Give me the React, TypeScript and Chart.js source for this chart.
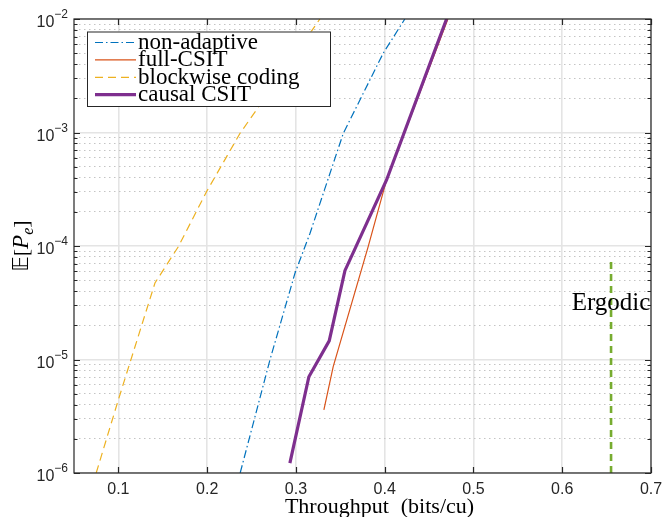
import React, { useEffect, useRef } from 'react';
import { Chart, registerables } from 'chart.js';

Chart.register(...registerables);

const SERIF = '"Liberation Serif", "Times New Roman", serif';
const SANS = '"Liberation Sans", Arial, sans-serif';

// ---- axes / ticks ----
const xMin = 0.05;
const xMax = 0.7;
const xTicks = [0.1, 0.2, 0.3, 0.4, 0.5, 0.6, 0.7];
const decadeExps = [-6, -5, -4, -3, -2];
const minorMultipliers = [2, 3, 4, 5, 6, 7, 8, 9];

// ---- series ----
const nonAdaptiveX = [0.2372, 0.2707, 0.2989, 0.3158, 0.3533, 0.3983, 0.4227];
const nonAdaptiveY = [1e-6, 9.9e-6, 5.75e-5, 1.29e-4, 9.8e-4, 4.99e-3, 1e-2];

const fullCsitX = [0.3315, 0.342, 0.3814, 0.4021, 0.4712];
const fullCsitY = [3.59e-6, 8.64e-6, 9.86e-5, 3.82e-4, 1e-2];

const blockwiseX = [0.075, 0.0999, 0.1412, 0.1675, 0.1994, 0.2369, 0.2595, 0.327];
const blockwiseY = [1e-6, 4.4e-6, 4.72e-5, 9.86e-5, 3.02e-4, 9.8e-4, 1.75e-3, 1e-2];

const causalX = [0.2932, 0.3146, 0.3375, 0.3552, 0.4021, 0.4697];
const causalY = [1.22e-6, 7.05e-6, 1.46e-5, 6.06e-5, 3.82e-4, 1e-2];

const ergodicX = [0.655, 0.655];
const ergodicY = [1e-6, 8e-5];

const seriesLabels = ['non-adaptive', 'full-CSIT', 'blockwise coding', 'causal CSIT'];
const ergodicLabel = 'Ergodic';
const xTitleParts = ['Throughput', '(bits/cu)'];

const pts = (xs: number[], ys: number[]) => xs.map((x, i) => ({ x, y: ys[i] }));

const styles = {
  nonAdaptive: { borderColor: '#0072BD', borderWidth: 1.2, borderDash: [8, 3, 1.5, 3] },
  fullCsit: { borderColor: '#D95319', borderWidth: 1.2, borderDash: [] as number[] },
  blockwise: { borderColor: '#EDB120', borderWidth: 1.2, borderDash: [8, 5] },
  causal: { borderColor: '#7E2F8E', borderWidth: 3.2, borderDash: [] as number[] },
  ergodic: { borderColor: '#77AC30', borderWidth: 2.6, borderDash: [7, 5] },
};
const legendStyles = [styles.nonAdaptive, styles.fullCsit, styles.blockwise, styles.causal];

const decorPlugin = {
  id: 'decor',
  afterDraw(chart: any) {
    const { ctx, chartArea: a, scales } = chart;
    const xs = scales.x;
    const ys = scales.y;
    const axisColor = '#262626';
    ctx.save();

    // box
    ctx.setLineDash([]);
    ctx.strokeStyle = axisColor;
    ctx.lineWidth = 1.2;
    ctx.strokeRect(a.left, a.top, a.right - a.left, a.bottom - a.top);

    // inward tick marks
    ctx.beginPath();
    xTicks.forEach((v) => {
      const px = Math.round(xs.getPixelForValue(v)) + 0.5;
      ctx.moveTo(px, a.bottom);
      ctx.lineTo(px, a.bottom - 6);
      ctx.moveTo(px, a.top);
      ctx.lineTo(px, a.top + 6);
    });
    ys.ticks.forEach((t: any) => {
      const py = Math.round(ys.getPixelForValue(t.value)) + 0.5;
      const len = t.major ? 6 : 3.5;
      ctx.moveTo(a.left, py);
      ctx.lineTo(a.left + len, py);
      ctx.moveTo(a.right, py);
      ctx.lineTo(a.right - len, py);
    });
    ctx.stroke();

    // x tick labels
    ctx.fillStyle = axisColor;
    ctx.font = `16px ${SANS}`;
    ctx.textAlign = 'center';
    ctx.textBaseline = 'alphabetic';
    xTicks.forEach((v) => {
      ctx.fillText(v.toFixed(1), xs.getPixelForValue(v), a.bottom + 21);
    });

    // y tick labels 10^n
    ctx.textAlign = 'left';
    decadeExps.forEach((e) => {
      const py = ys.getPixelForValue(Math.pow(10, e));
      const sup = '\u2212' + String(Math.abs(e));
      ctx.font = `12px ${SANS}`;
      const w2 = ctx.measureText(sup).width;
      ctx.font = `16px ${SANS}`;
      const w1 = ctx.measureText('10').width;
      const right = a.left - 6;
      ctx.fillText('10', right - w2 - w1, py + 8);
      ctx.font = `12px ${SANS}`;
      ctx.fillText(sup, right - w2, py - 1);
    });

    // x title
    ctx.fillStyle = '#000';
    ctx.font = `22px ${SERIF}`;
    const w1 = ctx.measureText(xTitleParts[0]).width;
    const w2 = ctx.measureText(xTitleParts[1]).width;
    const gap = 12;
    const cx = (a.left + a.right) / 2 + 17;
    const sx = cx - (w1 + gap + w2) / 2;
    ctx.fillText(xTitleParts[0], sx, a.bottom + 40);
    ctx.fillText(xTitleParts[1], sx + w1 + gap, a.bottom + 40);

    // y title  E[P_e]
    ctx.save();
    ctx.translate(28, (a.top + a.bottom) / 2);
    ctx.rotate(-Math.PI / 2);
    const parts = [
      { t: '\u{1D53C}', f: `21px "DejaVu Sans", ${SERIF}`, dy: 0 },
      { t: '[', f: `22px ${SERIF}`, dy: 0 },
      { t: 'P', f: `italic 23px ${SERIF}`, dy: 0 },
      { t: 'e', f: `italic 16px ${SERIF}`, dy: 5 },
      { t: ']', f: `22px ${SERIF}`, dy: 0 },
    ];
    let total = 0;
    const widths = parts.map((p) => {
      ctx.font = p.f;
      const w = ctx.measureText(p.t).width;
      total += w;
      return w;
    });
    let px = -total / 2;
    parts.forEach((p, i) => {
      ctx.font = p.f;
      ctx.fillText(p.t, px, p.dy);
      px += widths[i];
    });
    ctx.restore();

    // Ergodic label
    ctx.font = `25px ${SERIF}`;
    ctx.textAlign = 'center';
    ctx.fillText(ergodicLabel, xs.getPixelForValue(ergodicX[0]), 310);

    // legend
    const lx0 = a.left + 13;
    const ly0 = a.top + 12.5;
    const lx1 = 330;
    const ly1 = 106;
    ctx.fillStyle = '#fff';
    ctx.fillRect(lx0, ly0, lx1 - lx0, ly1 - ly0);
    ctx.strokeStyle = axisColor;
    ctx.lineWidth = 1;
    ctx.setLineDash([]);
    ctx.strokeRect(lx0 + 0.5, ly0 + 0.5, lx1 - lx0, ly1 - ly0);
    ctx.textAlign = 'left';
    ctx.font = `23px ${SERIF}`;
    seriesLabels.forEach((lab, i) => {
      const ry = ly0 + 11 + i * 17.4;
      const st = legendStyles[i];
      ctx.strokeStyle = st.borderColor;
      ctx.lineWidth = st.borderWidth;
      ctx.setLineDash(st.borderDash);
      ctx.beginPath();
      ctx.moveTo(lx0 + 8, ry);
      ctx.lineTo(lx0 + 49, ry);
      ctx.stroke();
      ctx.setLineDash([]);
      ctx.fillStyle = '#000';
      ctx.fillText(lab, lx0 + 51, ry + 6.5);
    });

    ctx.restore();
  },
};

export default function App() {
  const ref = useRef<HTMLCanvasElement>(null);

  useEffect(() => {
    if (!ref.current) return;
    const mk = (label: string, xs: number[], ys: number[], st: any) => ({
      label,
      data: pts(xs, ys),
      borderColor: st.borderColor,
      borderWidth: st.borderWidth,
      borderDash: st.borderDash,
      pointRadius: 0,
      pointHoverRadius: 0,
      fill: false,
      tension: 0,
    });
    const isMajor = (c: any) => !!(c.tick && c.tick.major);
    const chart = new Chart(ref.current, {
      type: 'line',
      data: {
        datasets: [
          mk(seriesLabels[3], causalX, causalY, styles.causal),
          mk(seriesLabels[2], blockwiseX, blockwiseY, styles.blockwise),
          mk(seriesLabels[1], fullCsitX, fullCsitY, styles.fullCsit),
          mk(seriesLabels[0], nonAdaptiveX, nonAdaptiveY, styles.nonAdaptive),
          mk(ergodicLabel, ergodicX, ergodicY, styles.ergodic),
        ],
      },
      options: {
        animation: false,
        responsive: false,
        devicePixelRatio: 1,
        layout: { padding: { left: 74, right: 12, top: 19, bottom: 44 } },
        plugins: { legend: { display: false }, tooltip: { enabled: false } },
        events: [],
        scales: {
          x: {
            type: 'linear',
            min: xMin,
            max: xMax,
            ticks: { display: false },
            border: { display: false },
            grid: { color: '#e4e4e4', lineWidth: 1.6, drawTicks: false },
            afterBuildTicks: (s: any) => {
              s.ticks = xTicks.map((v) => ({ value: v }));
            },
            afterFit: (s: any) => {
              s.height = 0;
            },
          },
          y: {
            type: 'logarithmic',
            min: Math.pow(10, decadeExps[0]),
            max: Math.pow(10, decadeExps[decadeExps.length - 1]),
            ticks: { display: false },
            border: {
              display: false,
              dash: (c: any) => (isMajor(c) ? [] : [1.5, 3.5]),
            },
            grid: {
              drawTicks: false,
              color: (c: any) => (isMajor(c) ? '#e4e4e4' : '#c4c4c4'),
              lineWidth: (c: any) => (isMajor(c) ? 1.6 : 1),
              borderDash: (c: any) => (isMajor(c) ? [] : [1.5, 3.5]),
            },
            afterBuildTicks: (s: any) => {
              const t: any[] = [];
              decadeExps.forEach((e, i) => {
                t.push({ value: Math.pow(10, e), major: true });
                if (i < decadeExps.length - 1) {
                  minorMultipliers.forEach((m) => t.push({ value: m * Math.pow(10, e), major: false }));
                }
              });
              s.ticks = t;
            },
            afterFit: (s: any) => {
              s.width = 0;
            },
          },
        },
      },
      plugins: [decorPlugin],
    } as any);
    return () => chart.destroy();
  }, []);

  return (
    <div style={{ position: 'fixed', left: 0, top: 0, width: 663, height: 517, background: '#fff' }}>
      <canvas ref={ref} width={663} height={517} style={{ display: 'block' }} />
    </div>
  );
}
